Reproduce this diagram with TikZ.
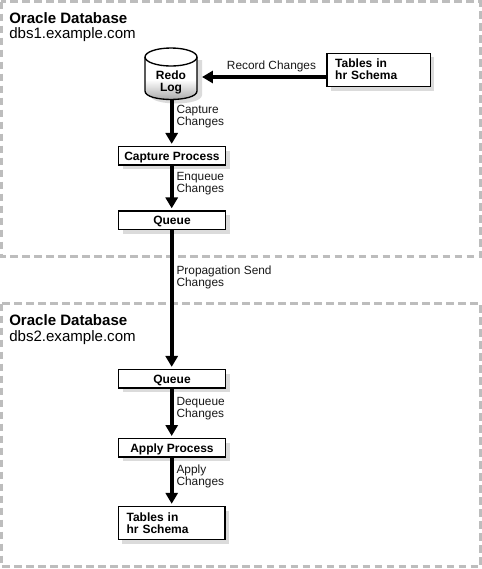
\documentclass[tikz,border=0pt]{standalone}
\usepackage{fontspec}
\setmainfont{Liberation Sans}
\usetikzlibrary{arrows.meta,shadows}
\definecolor{dashgray}{gray}{0.74}
\definecolor{shadowgray}{gray}{0.86}
\tikzset{
  x=0.75pt,y=-0.75pt,
  frame/.style={draw=dashgray,line width=1.9pt,dash pattern=on 5.4pt off 3.6pt},
  basebox/.style={draw=black,fill=white,line width=1pt,minimum width=80pt,minimum height=13.7pt,inner sep=0pt,font=\fontsize{9pt}{9pt}\bfseries\selectfont,anchor=center,
    drop shadow={shadow xshift=3.2pt,shadow yshift=-3.2pt,fill=shadowgray,opacity=1}},
  procbox/.style={basebox,text height=6.5pt,text depth=0pt},
  tabbox/.style={basebox,minimum height=24.8pt,align=left,inner xsep=6.3pt},
  lbl/.style={font=\fontsize{8.9pt}{9pt}\selectfont,align=left,anchor=west,inner sep=0pt,text=black!90},
  title/.style={font=\fontsize{11.3pt}{11.5pt}\selectfont,align=left,anchor=north west,inner sep=0pt},
  flow/.style={line width=2.7pt,shorten >=1.5pt,-{Triangle[length=8.2pt,width=9pt]}},
}
\begin{document}
\begin{tikzpicture}
\useasboundingbox (0,0) rectangle (482,569);
\fill[white] (0,0) rectangle (482,569);
\draw[frame] (1.5,1.5) rectangle (480.5,256.5);
\draw[frame] (1.5,303.5) rectangle (480.5,566.5);
\node[title] (t1) at (9,12) {\textbf{Oracle Database}\\dbs1.example.com};
\node[title] (t2) at (9,314.5) {\textbf{Oracle Database}\\dbs2.example.com};
% cylinder
\fill[shadowgray] (150,60) -- (202,60) -- (202,95) .. controls (202,106.3) and (150,106.3) .. (150,95) -- cycle;
\path[top color=white,bottom color=black!38,middle color=white] (145,57) -- (197,57) -- (197,91) .. controls (197,102.3) and (145,102.3) .. (145,91) -- cycle;
\draw[line width=1pt] (145,57) -- (145,91) .. controls (145,102.3) and (197,102.3) .. (197,91) -- (197,57);
\draw[line width=1pt,fill=white] (171,57) ellipse[x radius=26,y radius=9];
\node[inner sep=0pt,font=\fontsize{9pt}{9pt}\bfseries\selectfont,align=center] (redo) at (171,82.5) {Redo\\Log};
\coordinate (redoR) at (202,77);
\coordinate (redoB) at (171.7,99);
\node[tabbox,minimum width=77.5pt,text width=64.9pt] (tab1) at (378.5,69.7) {Tables in\\hr Schema};
\node[procbox] (cap) at (172,155.7) {Capture Process};
\node[procbox] (q1) at (172,220.2) {Queue};
\node[procbox] (q2) at (172,378.7) {Queue};
\node[procbox] (app) at (172,447.8) {Apply Process};
\node[tabbox,text width=67.4pt] (tab2) at (171.5,523) {Tables in\\hr Schema};
\draw[flow,shorten >=0pt] (tab1.west |- redoR) -- (redoR);
\draw[flow] (redoB) -- (cap.north -| redoB);
\draw[flow] (cap.south -| redoB) -- (q1.north -| redoB);
\draw[flow] (q1.south -| redoB) -- (q2.north -| redoB);
\draw[flow] (q2.south -| redoB) -- (app.north -| redoB);
\draw[flow] (app.south -| redoB) -- (tab2.north -| redoB);
\node[lbl] (l0) at (226.7,66) {Record Changes};
\node[lbl] (l1) at (176.3,116.7) {Capture\\Changes};
\node[lbl] (l2) at (176.3,184) {Enqueue\\Changes};
\node[lbl] (l3) at (176.3,277.3) {Propagation Send\\Changes};
\node[lbl] (l4) at (176.3,408.7) {Dequeue\\Changes};
\node[lbl] (l5) at (176.3,476) {Apply\\Changes};
\end{tikzpicture}
\end{document}
